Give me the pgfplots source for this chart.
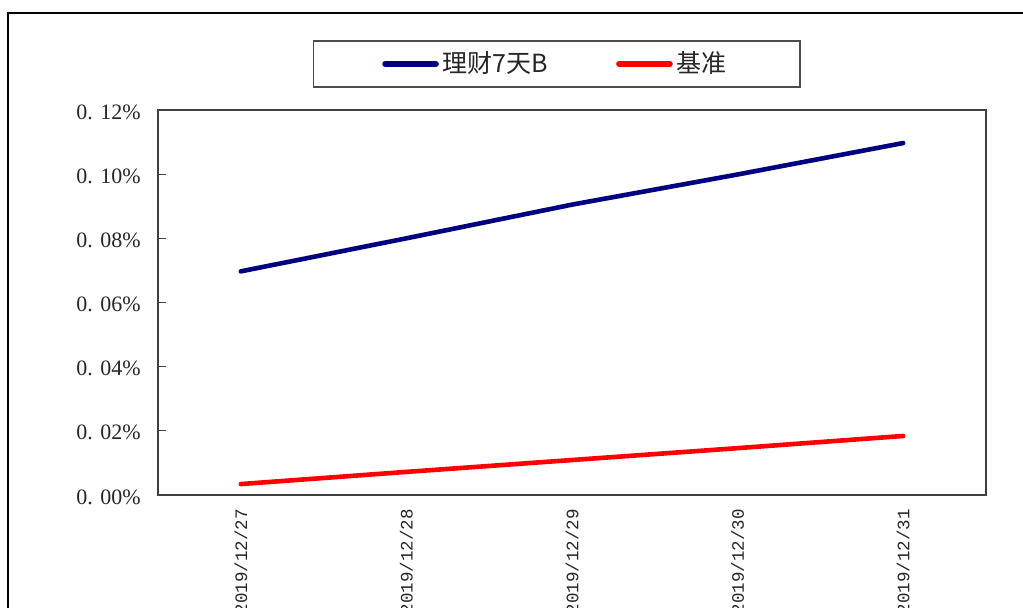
\documentclass[border=0pt]{standalone}
\usepackage{pgfplots}
\pgfplotsset{compat=1.18}
\usepackage{fontspec}
\setmainfont{Liberation Serif}
\newfontfamily\monofont{Liberation Mono}
\newfontfamily\cjk{Noto Sans CJK SC}
\definecolor{navy}{RGB}{0,0,128}
\definecolor{axgray}{RGB}{64,64,64}
\begin{document}
\begin{tikzpicture}
\useasboundingbox (-79pt,-56.5pt) rectangle (432.5pt,247.5pt);
\clip (-79pt,-56.5pt) rectangle (432.5pt,247.5pt);
\fill[white] (-79pt,-56.5pt) rectangle (432.5pt,247.5pt);
\draw[black, line width=0.75pt] (-75pt,-120pt) rectangle (520pt,241pt);
\begin{axis}[
  at={(0pt,0pt)}, anchor=south west,
  scale only axis, width=414pt, height=192.5pt,
  xmin=-0.5, xmax=4.5, ymin=0, ymax=0.12,
  axis line style={axgray, line width=0.75pt},
  tick align=inside, ytick pos=left, xtick pos=bottom,
  major tick length=4pt, minor tick length=3.5pt,
  tick style={axgray, line width=0.6pt},
  xtick={0,1,2,3,4},
  x tick style={draw=none},
  minor xtick={0.5,1.5,2.5,3.5},
  xticklabels={2019/12/27,2019/12/28,2019/12/29,2019/12/30,2019/12/31},
  xticklabel style={rotate=90, anchor=east, font=\monofont\fontsize{8.75pt}{10pt}\selectfont, text=black!85, inner sep=0pt, xshift=-7pt},
  ytick={0,0.02,0.04,0.06,0.08,0.10,0.12},
  yticklabels={0. 00\%,0. 02\%,0. 04\%,0. 06\%,0. 08\%,0. 10\%,0. 12\%},
  yticklabel style={font=\fontsize{11pt}{12pt}\selectfont, text=black!85, inner sep=0pt, xshift=-8.5pt, yshift=-1pt},
  legend columns=2,
  legend style={at={(0.4813,1.1195)}, anchor=center, draw=black!70, line width=0.75pt,
    inner xsep=34.5pt, inner ysep=3.5pt,
    font=\cjk\fontsize{12.5pt}{14pt}\selectfont, text=black!85,
    /tikz/every even column/.append style={column sep=32pt}},
  legend image code/.code={\draw[#1, line width=2.8pt, line cap=round] (0pt,0pt) -- (25.5pt,0pt);},
]
\addplot[navy, line width=2.3pt, line cap=round] coordinates {
  (0,0.0697) (1,0.0800) (2,0.0905) (3,0.0999) (4,0.1097)};
\addlegendentry{理财7天B}
\addplot[red, line width=2.3pt, line cap=round] coordinates {
  (0,0.0034) (1,0.0072) (2,0.0109) (3,0.0146) (4,0.0184)};
\addlegendentry{基准}
\end{axis}
\end{tikzpicture}
\end{document}
